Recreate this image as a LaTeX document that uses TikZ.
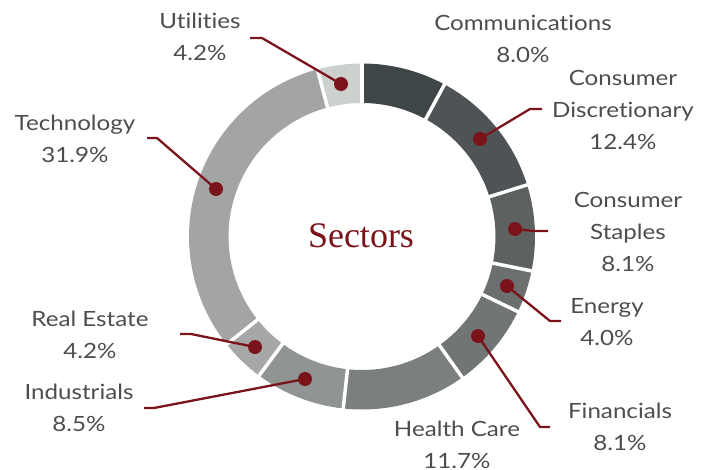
\documentclass[tikz,border=0pt]{standalone}
\usepackage{fontspec}
\setmainfont{Lato}[FakeStretch=1.15,Ligatures=NoCommon]
\newfontfamily\titlefont{Liberation Serif}
\definecolor{txt}{HTML}{4D4D4D}
\definecolor{leader}{HTML}{7A141A}
\definecolor{cA}{HTML}{3F4648}
\definecolor{cB}{HTML}{4E5456}
\definecolor{cC}{HTML}{5D6261}
\definecolor{cD}{HTML}{6B6F6F}
\definecolor{cE}{HTML}{717575}
\definecolor{cF}{HTML}{7B7F7E}
\definecolor{cG}{HTML}{909493}
\definecolor{cH}{HTML}{A6A8A7}
\definecolor{cI}{HTML}{A3A5A4}
\definecolor{cJ}{HTML}{CDD1CE}
\begin{document}
\begin{tikzpicture}[x=1pt,y=1pt,
  lab/.style={text=txt,font=\fontsize{21}{32}\selectfont,align=center,inner sep=0pt},
  dot/.style={circle,fill=leader,minimum size=14pt,inner sep=0pt},
  lead/.style={draw=leader,line width=2.3pt}]
\useasboundingbox (0,0) rectangle (710,-469);
\begin{scope}[shift={(362,-236.5)}]
\foreach \a/\b/\c in {90/61.513/cA,61.513/17.359/cB,17.359/-11.484/cC,-11.484/-25.727/cD,-25.727/-54.570/cE,-54.570/-96.231/cF,-96.231/-126.499/cG,-126.499/-141.454/cH,-141.454/-255.044/cI,-255.044/-270/cJ}{
  \fill[\c] (\a:173pt) arc[start angle=\a,end angle=\b,radius=173pt] -- (\b:133.5pt) arc[start angle=\b,end angle=\a,radius=133.5pt] -- cycle;
}
\foreach \a in {90,61.513,17.359,-11.484,-25.727,-54.570,-96.231,-126.499,-141.454,-255.044}{
  \draw[white,line width=3.5pt] (\a:128pt) -- (\a:178pt);
}
\end{scope}
\node[text=leader,font=\titlefont\fontsize{36}{40}\selectfont] (title) at (361,-236) {Sectors};
% labels
\node[lab] (comm) at (523,-39) {Communications\\8.0\%};
\node[lab] (disc) at (623,-110) {Consumer\\Discretionary\\12.4\%};
\node[lab] (stap) at (628,-232) {Consumer\\Staples\\8.1\%};
\node[lab] (ener) at (607,-322) {Energy\\4.0\%};
\node[lab] (fina) at (620,-427) {Financials\\8.1\%};
\node[lab] (heal) at (457,-445) {Health Care\\11.7\%};
\node[lab] (indu) at (79,-408) {Industrials\\8.5\%};
\node[lab] (real) at (90,-335) {Real Estate\\4.2\%};
\node[lab] (tech) at (75,-139) {Technology\\31.9\%};
\node[lab] (util) at (200,-37) {Utilities\\4.2\%};
% dots
\node[dot] (dUtil) at (341,-84) {};
\node[dot] (dDisc) at (480,-139) {};
\node[dot] (dStap) at (515,-229) {};
\node[dot] (dEner) at (507,-286) {};
\node[dot] (dFina) at (478,-336) {};
\node[dot] (dTech) at (216,-189) {};
\node[dot] (dReal) at (255,-347) {};
\node[dot] (dIndu) at (305,-379) {};
% leader bends
\coordinate (uA) at (262,-38); \coordinate (uB) at (250,-38);
\coordinate (cdA) at (530,-109); \coordinate (cdB) at (542,-109);
\coordinate (csA) at (533,-231); \coordinate (csB) at (548,-231);
\coordinate (eA) at (550,-321); \coordinate (eB) at (561,-321);
\coordinate (fA) at (540,-427); \coordinate (fB) at (550,-427);
\coordinate (tA) at (157,-138); \coordinate (tB) at (147,-138);
\coordinate (rA) at (191,-334); \coordinate (rB) at (180,-334);
\coordinate (iA) at (154,-408); \coordinate (iB) at (144,-408);
\draw[lead] (dUtil.center) -- (uA) -- (uB);
\draw[lead] (dDisc.center) -- (cdA) -- (cdB);
\draw[lead] (dStap.center) -- (csA) -- (csB);
\draw[lead] (dEner.center) -- (eA) -- (eB);
\draw[lead] (dFina.center) -- (fA) -- (fB);
\draw[lead] (dTech.center) -- (tA) -- (tB);
\draw[lead] (dReal.center) -- (rA) -- (rB);
\draw[lead] (dIndu.center) -- (iA) -- (iB);
\end{tikzpicture}
\end{document}
